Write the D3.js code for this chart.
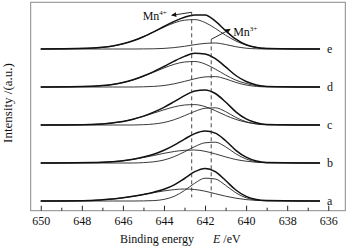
<!DOCTYPE html>
<html>
<head>
<meta charset="utf-8">
<script src="https://cdn.jsdelivr.net/npm/d3@7"></script>
<style>
  body { margin: 0; background: #fff; }
  text { font-family: "Liberation Serif", "Times New Roman", serif; fill: #111; }
</style>
</head>
<body>
<svg id="chart" width="353" height="249"></svg>
<script>
const energies = [650, 647.5, 647, 646.5, 646, 645.5, 645, 644.5, 644, 643.5, 643, 642.5, 642, 641.5, 641, 640.5, 640, 639.5, 639, 636.4];

// sample labels, bottom to top, and their vertical stacking offsets (a.u.)
const samples = ["a", "b", "c", "d", "e"];
const offsets = [0, 38, 76, 114, 152];

// measured envelope + fitted Mn4+ / Mn3+ components (a.u.)
const aTotal = [0, 0.6, 1.2, 2.0, 3.2, 4.7, 6.6, 8.8, 11.7, 16.1, 22.5, 29.3, 32.6, 29.3, 20.5, 11.0, 4.6, 1.5, 0.5, 0];
const aMn4   = [0, 0.6, 1.2, 2.0, 3.2, 4.7, 6.5, 8.4, 10.1, 11.4, 12.0, 11.5, 9.8, 7.3, 4.8, 2.8, 1.4, 0.6, 0.3, 0];
const aMn3   = [0, 0, 0, 0, 0, 0, 0.1, 0.4, 1.6, 4.7, 10.5, 17.8, 22.8, 22.0, 15.7, 8.2, 3.2, 0.9, 0.2, 0];

const bTotal = [0, 0.4, 0.7, 1.3, 2.2, 3.7, 5.9, 8.7, 12.7, 17.9, 23.9, 29.4, 31.9, 29.9, 22.3, 12.7, 5.8, 1.9, 0.5, 0];
const bMn4   = [0, 0.4, 0.7, 1.3, 2.2, 3.7, 5.5, 7.5, 9.7, 11.5, 12.7, 13.0, 11.7, 9.1, 6.1, 3.5, 1.8, 0.7, 0.3, 0];
const bMn3   = [0, 0, 0, 0, 0, 0, 0.4, 1.2, 3.0, 6.4, 11.2, 16.4, 20.2, 20.8, 16.2, 9.2, 4.0, 1.2, 0.2, 0];

const cTotal = [0, 0.6, 1.1, 2.1, 3.5, 5.8, 8.9, 12.9, 17.7, 23.4, 29.3, 34.0, 35.1, 31.5, 23.0, 13.2, 6.1, 2.2, 0.6, 0];
const cMn4   = [0, 0.6, 1.1, 2.1, 3.5, 5.8, 8.6, 11.9, 15.2, 18.1, 20.0, 20.4, 18.4, 14.3, 9.6, 5.6, 2.8, 1.2, 0.4, 0];
const cMn3   = [0, 0, 0, 0, 0, 0, 0.3, 1.0, 2.5, 5.3, 9.3, 13.6, 16.7, 17.2, 13.4, 7.6, 3.3, 1.0, 0.2, 0];

const dTotal = [0, 0.7, 1.4, 2.6, 4.4, 7.2, 11.0, 15.4, 20.5, 25.9, 30.6, 33.7, 33.1, 28.3, 20.1, 11.5, 5.5, 2.1, 0.6, 0];
const dMn4   = [0, 0.7, 1.4, 2.6, 4.4, 7.2, 10.8, 14.8, 19.0, 22.7, 25.0, 25.5, 23.0, 17.9, 12.0, 6.9, 3.5, 1.5, 0.5, 0];
const dMn3   = [0, 0, 0, 0, 0, 0, 0.2, 0.6, 1.5, 3.2, 5.6, 8.2, 10.1, 10.4, 8.1, 4.6, 2.0, 0.6, 0.1, 0];

const eTotal = [0, 0.9, 1.7, 3.0, 5.2, 8.2, 12.3, 17.2, 22.5, 27.6, 31.7, 34.1, 33.9, 27.9, 18.4, 9.8, 4.2, 1.4, 0.4, 0];
const eMn4   = [0, 0.8, 1.6, 3.0, 5.1, 8.3, 12.4, 17.1, 21.9, 26.1, 28.8, 29.4, 26.5, 20.6, 13.8, 8.0, 4.0, 1.7, 0.6, 0];
const eMn3   = [0, 0, 0, 0, 0, 0, 0.1, 0.2, 0.6, 1.4, 2.7, 4.3, 5.6, 6.0, 4.5, 2.3, 0.8, 0.2, 0, 0];

// axis ticks
const majorTicks = [650, 648, 646, 644, 642, 640, 638, 636];
const minorTicks = [649, 647, 645, 643, 641, 639, 637];

// Mn4+ and Mn3+ reference positions (eV)
const refLines = [642.65, 641.7];

const spectra = [
  { total: aTotal, mn4: aMn4, mn3: aMn3 },
  { total: bTotal, mn4: bMn4, mn3: bMn3 },
  { total: cTotal, mn4: cMn4, mn3: cMn3 },
  { total: dTotal, mn4: dMn4, mn3: dMn3 },
  { total: eTotal, mn4: eMn4, mn3: eMn3 }
].map((s, i) => ({ ...s, label: samples[i], offset: offsets[i] }));

const margin = { top: 2.3, right: 7.7, bottom: 38.3, left: 30.7 };
const width = 353 - margin.left - margin.right;
const height = 249 - margin.top - margin.bottom;

const svg = d3.select("#chart");
const g = svg.append("g").attr("transform", `translate(${margin.left},${margin.top})`);

const x = d3.scaleLinear().domain([650.49, 635.17]).range([0, width]);
const y = d3.scaleLinear().domain([-9.7, 198.7]).range([height, 0]);

// arrow marker
svg.append("defs").append("marker")
  .attr("id", "arrow")
  .attr("viewBox", "0 0 10 10")
  .attr("refX", 9).attr("refY", 5)
  .attr("markerWidth", 7).attr("markerHeight", 5)
  .attr("markerUnits", "userSpaceOnUse")
  .attr("orient", "auto")
  .append("path").attr("d", "M0,0L10,5L0,10z").attr("fill", "#111");

// frame
g.append("rect")
  .attr("width", width).attr("height", height)
  .attr("fill", "none").attr("stroke", "#8a8a8a").attr("stroke-width", 1);

// bottom axis: major + minor ticks pointing inward
const xAxis = g.append("g")
  .attr("transform", `translate(0,${height})`)
  .call(d3.axisBottom(x).tickValues(majorTicks).tickSize(-5).tickPadding(6).tickFormat(d3.format("d")));
xAxis.select(".domain").remove();
xAxis.selectAll(".tick line").attr("stroke", "#222");
xAxis.selectAll(".tick text")
  .attr("font-family", "Liberation Serif, serif").attr("font-size", 12).attr("fill", "#111");

const xMinor = g.append("g")
  .attr("transform", `translate(0,${height})`)
  .call(d3.axisBottom(x).tickValues(minorTicks).tickSize(-3).tickFormat(""));
xMinor.select(".domain").remove();
xMinor.selectAll(".tick line").attr("stroke", "#222");

// spectra
const line = d3.line().curve(d3.curveMonotoneX);

spectra.forEach(s => {
  const pts = arr => energies.map((e, i) => [x(e), y(s.offset + arr[i])]);
  g.append("path").attr("d", line(pts(s.mn4)))
    .attr("fill", "none").attr("stroke", "#222").attr("stroke-width", 0.9);
  g.append("path").attr("d", line(pts(s.mn3)))
    .attr("fill", "none").attr("stroke", "#222").attr("stroke-width", 0.9);
  g.append("path").attr("d", line(pts(s.total)))
    .attr("fill", "none").attr("stroke", "#111").attr("stroke-width", 1.5);
  g.append("text")
    .attr("x", x(636.4) + 7)
    .attr("y", y(s.offset) + 4)
    .attr("font-size", 12)
    .text(s.label);
});

// dashed reference lines
g.selectAll(".ref")
  .data(refLines)
  .join("line")
  .attr("class", "ref")
  .attr("x1", d => x(d)).attr("x2", d => x(d))
  .attr("y1", (d, i) => i === 0 ? 10 : 37)
  .attr("y2", 195)
  .attr("stroke", "#333").attr("stroke-width", 0.9)
  .attr("stroke-dasharray", "4,3");

// Mn4+ annotation
g.append("line")
  .attr("x1", x(refLines[0])).attr("y1", 10)
  .attr("x2", x(refLines[0]) - 20).attr("y2", 13)
  .attr("stroke", "#111").attr("stroke-width", 0.9)
  .attr("marker-end", "url(#arrow)");
const mn4 = g.append("text").attr("x", 112).attr("y", 17.5).attr("font-size", 12).text("Mn");
mn4.append("tspan").attr("dy", -5).attr("font-size", 7).text("4+");

// Mn3+ annotation
g.append("line")
  .attr("x1", x(refLines[1])).attr("y1", 37)
  .attr("x2", x(refLines[1]) + 19).attr("y2", 27)
  .attr("stroke", "#111").attr("stroke-width", 0.9)
  .attr("marker-end", "url(#arrow)");
const mn3 = g.append("text").attr("x", 202.5).attr("y", 33.5).attr("font-size", 12).text("Mn");
mn3.append("tspan").attr("dy", -5).attr("font-size", 7).text("3+");

// axis titles
svg.append("text")
  .attr("x", 120).attr("y", 243)
  .attr("font-size", 12)
  .text("Binding energy");
const eTitle = svg.append("text")
  .attr("x", 213).attr("y", 243)
  .attr("font-size", 12);
eTitle.append("tspan").attr("font-style", "italic").text("E");
eTitle.append("tspan").text(" /eV");

svg.append("text")
  .attr("transform", "translate(12,103) rotate(-90)")
  .attr("text-anchor", "middle")
  .attr("font-size", 13)
  .text("Intensity /(a.u.)");
</script>
</body>
</html>
